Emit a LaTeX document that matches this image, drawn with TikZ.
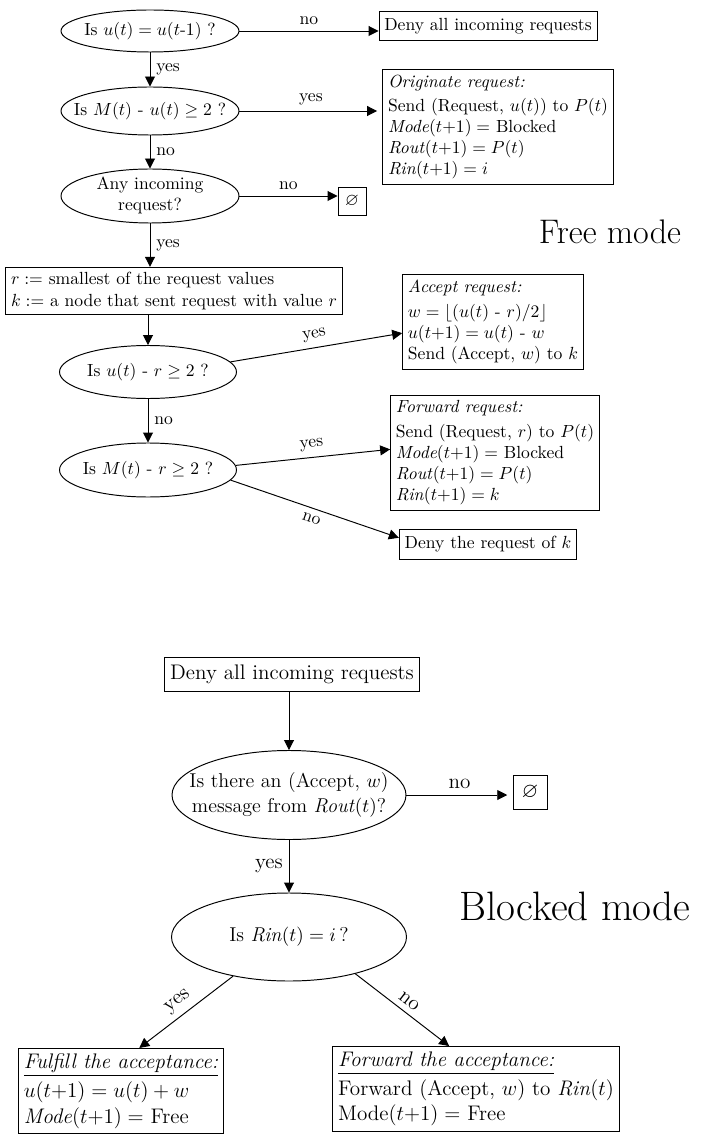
\documentclass[tikz,border=0pt]{standalone}
\usepackage{amssymb}
\usetikzlibrary{arrows.meta,shapes.geometric}
\newcommand{\dtext}[1]{\makebox[0pt]{\begin{tabular}{@{}c@{}}#1\end{tabular}}}

\begin{document}
\begin{tikzpicture}[line width=0.55pt,
  decision/.style={draw,ellipse,inner sep=0pt},
  block/.style={draw,rectangle,align=left,inner sep=3pt},
  flow/.style={-{Triangle[length=2mm,width=2mm]}},
  blockedfont/.style={font=\fontsize{12}{14.5}\selectfont}]
\useasboundingbox (0,0) rectangle (14.02,-22.70);

% free mode
\node[decision,minimum width=3.56cm,minimum height=0.84cm] (test1) at (3.00,-0.62) {\dtext{Is $u(t) = u(t\mbox{-}1)$ ?}};
\node[block,minimum height=0.58cm] (deny1) at (9.76,-0.52) {Deny all incoming requests};
\node[decision,minimum width=3.56cm,minimum height=0.96cm] (test2) at (3.00,-2.22) {\dtext{Is $M(t)$ - $u(t) \geq 2$ ?}};
\node[block] (orig) at (9.96,-2.54) {\textit{Originate request:}\\[2pt]
  Send (Request, $u(t)$) to $P(t)$\\
  \textit{Mode}$(t{+}1) =$ Blocked\\
  \textit{Rout}$(t{+}1) = P(t)$\\
  \textit{Rin}$(t{+}1) = i$};
\node[decision,minimum width=3.56cm,minimum height=1.08cm,inner ysep=-2pt] (test3) at (3.00,-3.92) {\dtext{Any incoming\\request?}};
\node[block,minimum size=0.56cm] (none1) at (7.04,-4.02) {$\varnothing$};
\node[font=\fontsize{19.4}{22}\selectfont] (freemode) at (12.20,-4.64) {Free mode};
\node[block] (setrk) at (3.48,-5.82) {$r :=$ smallest of the request values\\
  $k :=$ a node that sent request with value $r$};
\node[decision,minimum width=3.54cm,minimum height=1.06cm] (test4) at (2.96,-7.44) {\dtext{Is $u(t)$ - $r \geq 2$ ?}};
\node[block] (accept) at (9.86,-6.44) {\textit{Accept request:}\\[2pt]
  $w = \lfloor (u(t)$ - $r)/2 \rfloor$\\
  $u(t{+}1) = u(t)$ - $w$\\
  Send (Accept, $w$) to $k$};
\node[decision,minimum width=3.54cm,minimum height=1.08cm] (test5) at (2.96,-9.40) {\dtext{Is $M(t)$ - $r \geq 2$ ?}};
\node[block] (fwdreq) at (9.90,-9.06) {\textit{Forward request:}\\[2pt]
  Send (Request, $r$) to $P(t)$\\
  \textit{Mode}$(t{+}1) =$ Blocked\\
  \textit{Rout}$(t{+}1) = P(t)$\\
  \textit{Rin}$(t{+}1) = k$};
\node[block,minimum height=0.60cm] (denyk) at (9.76,-10.88) {Deny the request of $k$};

\draw[flow] (test1) -- (test1 -| deny1.west) node[midway,above] {no};
\draw[flow] (test1) -- (test2) node[midway,right] {yes};
\draw[flow,shorten >=3pt] (test2) -- (test2 -| orig.west) node[midway,above] {yes};
\draw[flow] (test2) -- (test3) node[midway,right] {no};
\draw[flow] (test3) -- (test3 -| none1.west) node[midway,above] {no};
\draw[flow] (test3) -- (test3 |- setrk.north) node[midway,right] {yes};
\draw[flow] (test4 |- setrk.south) -- (test4);
\draw[flow] (test4.7) -- (accept.187) node[midway,above,sloped] {yes};
\draw[flow] (test4) -- (test5) node[midway,right] {no};
\draw[flow] (test5.3) -- (fwdreq.178) node[midway,above,sloped] {yes};
\draw[flow] (test5.-7) -- (denyk.176) node[midway,below,sloped] {no};

% blocked mode
\begin{scope}[blockedfont]
\node[block,minimum height=0.68cm] (deny2) at (5.84,-13.48) {Deny all incoming requests};
\node[decision,minimum width=4.68cm,minimum height=1.78cm,font=\fontsize{11.4}{14}\selectfont] (wait) at (5.78,-15.90) {\dtext{Is there an (Accept, $w$)\\message from \textit{Rout}$(t)$?}};
\node[block,minimum size=0.68cm] (none2) at (10.60,-15.84) {$\varnothing$};
\node[decision,minimum width=4.70cm,minimum height=1.76cm,font=\fontsize{11.4}{14}\selectfont] (test6) at (5.78,-18.74) {\dtext{Is \textit{Rin}$(t) = i$\,?}};
\node[font=\fontsize{23.4}{26}\selectfont] (blockedmode) at (11.50,-18.12) {Blocked mode};
\node[block] (fulfill) at (2.42,-21.82) {\underline{\textit{Fulfill the acceptance:}}\\[2pt]
  $u(t{+}1) = u(t) + w$\\
  \textit{Mode}$(t{+}1) =$ Free};
\node[block] (fwdacc) at (9.52,-21.78) {\underline{\textit{Forward the acceptance:}}\\[2pt]
  Forward (Accept, $w$) to \textit{Rin}$(t)$\\
  Mode$(t{+}1) =$ Free};

\draw[flow] (wait |- deny2.south) -- (wait);
\draw[flow,shorten >=3pt] (wait) -- (wait -| none2.west) node[midway,above] {no};
\draw[flow] (wait) -- (test6) node[midway,left] {yes};
\draw[flow] (test6.215) -- (fulfill.67) node[midway,above,sloped] {yes};
\draw[flow] (test6.-29) -- (fwdacc.122) node[midway,above,sloped] {no};
\end{scope}
\end{tikzpicture}
\end{document}
